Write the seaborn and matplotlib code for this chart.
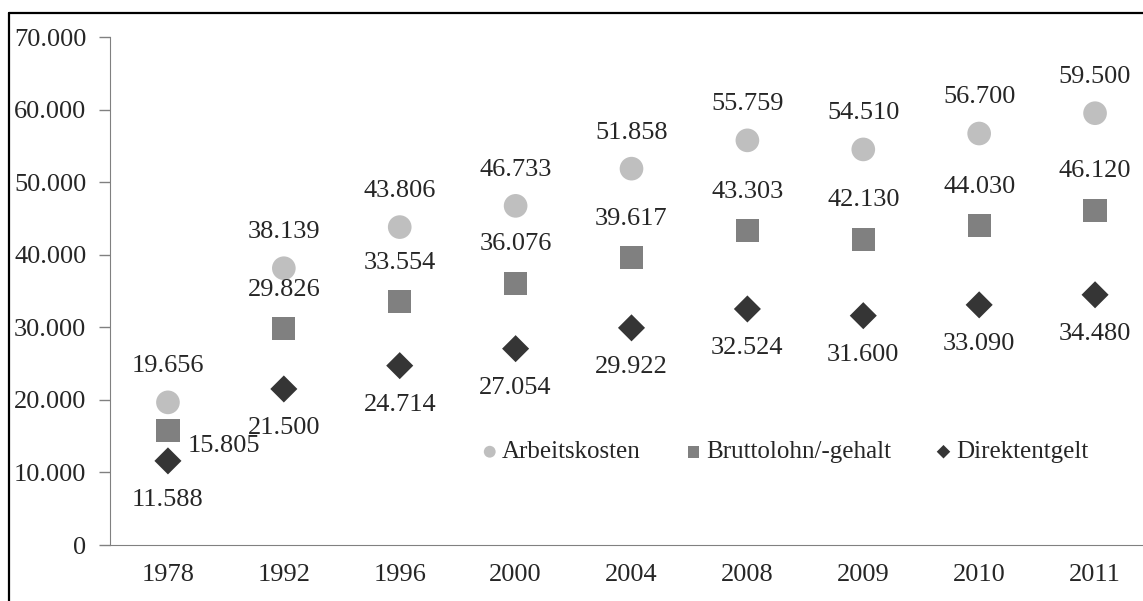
import matplotlib
matplotlib.use('Agg')
import matplotlib.pyplot as plt
import matplotlib.ticker as mticker
import pandas as pd
import seaborn as sns
from matplotlib.lines import Line2D

# Data
years = ['1978', '1992', '1996', '2000', '2004', '2008', '2009', '2010', '2011']
arbeitskosten = [19656, 38139, 43806, 46733, 51858, 55759, 54510, 56700, 59500]
bruttolohn = [15805, 29826, 33554, 36076, 39617, 43303, 42130, 44030, 46120]
direktentgelt = [11588, 21500, 24714, 27054, 29922, 32524, 31600, 33090, 34480]

series_names = ['Arbeitskosten', 'Bruttolohn/-gehalt', 'Direktentgelt']

df = pd.DataFrame({
    'year': years * 3,
    'value': arbeitskosten + bruttolohn + direktentgelt,
    'series': [n for n in series_names for _ in years],
})

sns.set_style('white')
plt.rcParams['font.family'] = ['Liberation Serif', 'DejaVu Serif']


def de_fmt(v):
    return f'{int(round(v)):,}'.replace(',', '.')


fig = plt.figure(figsize=(11.43, 6.01), dpi=100)
# axes runs past the right edge of the picture, like in the reference
ax = fig.add_axes([110 / 1143, 56 / 601, 1043 / 1143, 508 / 601])

styles = {
    'Arbeitskosten': dict(marker='o', color='#bfbfbf', s=290),
    'Bruttolohn/-gehalt': dict(marker='s', color='#808080', s=280),
    'Direktentgelt': dict(marker='D', color='#353535', s=190),
}

for name in series_names:
    sub = df[df['series'] == name]
    sns.scatterplot(data=sub, x='year', y='value', ax=ax, label=name,
                    edgecolor='none', **styles[name])

# value labels
for i, (a, b, d) in enumerate(zip(arbeitskosten, bruttolohn, direktentgelt)):
    ax.annotate(de_fmt(a), (i, a), xytext=(0, 26), textcoords='offset points',
                ha='center', va='center', fontsize=19)
    if i == 0:
        ax.annotate(de_fmt(b), (i, b), xytext=(40, -11), textcoords='offset points',
                    ha='center', va='center', fontsize=19)
    else:
        ax.annotate(de_fmt(b), (i, b), xytext=(0, 28), textcoords='offset points',
                    ha='center', va='center', fontsize=19)
    ax.annotate(de_fmt(d), (i, d), xytext=(0, -28), textcoords='offset points',
                ha='center', va='center', fontsize=19)

ax.set_xlim(-0.5, len(years) - 0.5)
ax.set_ylim(0, 70000)
ax.yaxis.set_major_locator(mticker.MultipleLocator(10000))
ax.yaxis.set_major_formatter(mticker.FuncFormatter(lambda v, p: de_fmt(v)))

# category boundary ticks on x
ax.set_xticks(range(len(years)))
ax.set_xticklabels(years)
ax.set_xticks([i - 0.5 for i in range(len(years))], minor=True)
ax.tick_params(axis='x', which='major', length=0, pad=14, labelsize=19)
ax.tick_params(axis='x', which='minor', length=8, width=1, color='#808080', direction='out')
ax.tick_params(axis='y', which='major', length=8, width=1, color='#808080',
               direction='out', pad=9, labelsize=19, left=True, right=False)

ax.set_xlabel('')
ax.set_ylabel('')
ax.spines['top'].set_visible(False)
ax.spines['right'].set_visible(False)
ax.spines['left'].set_color('#808080')
ax.spines['bottom'].set_color('#808080')

ax.legend(loc='center', bbox_to_anchor=(0.645, 0.183), ncol=3, frameon=False,
          fontsize=18, markerscale=0.5, handletextpad=0.0, columnspacing=1.6,
          handlelength=1.0)

# outer border: only the left and top edges fall inside the picture
bx = 8.5 / 1143
by = 1 - 12.5 / 601
fig.add_artist(Line2D([bx, bx], [0, by], transform=fig.transFigure,
                      color='black', linewidth=1.6))
fig.add_artist(Line2D([bx, 1.0], [by, by], transform=fig.transFigure,
                      color='black', linewidth=1.6))

fig.savefig('out.png', dpi=100)
